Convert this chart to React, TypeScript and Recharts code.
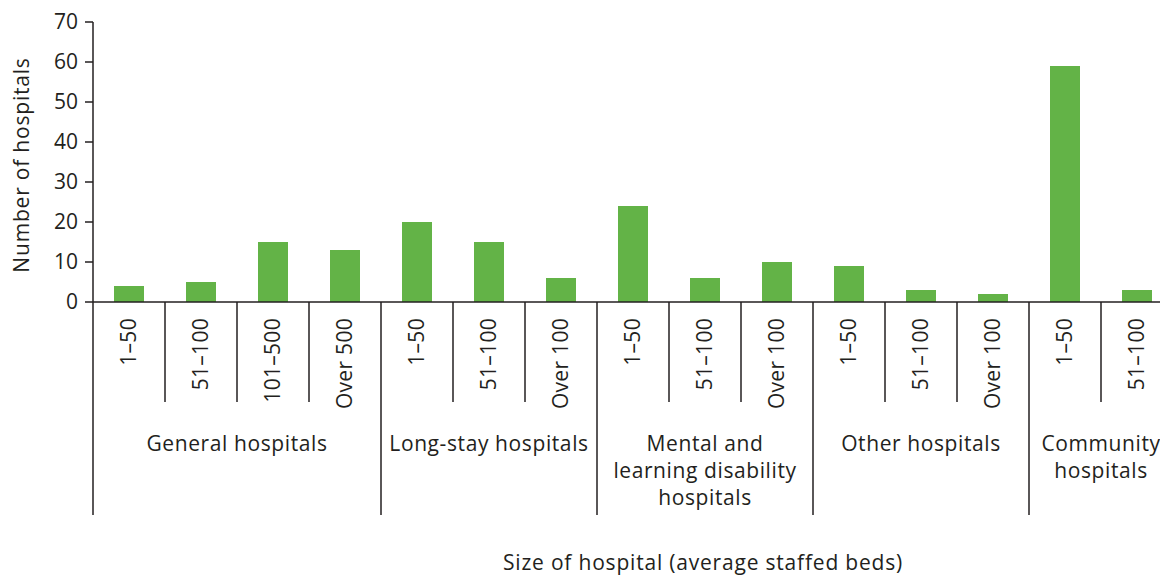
import { BarChart, Bar, XAxis, YAxis, Customized } from 'recharts';

const sizeLabels = [
  '1–50', '51–100', '101–500', 'Over 500',
  '1–50', '51–100', 'Over 100',
  '1–50', '51–100', 'Over 100',
  '1–50', '51–100', 'Over 100',
  '1–50', '51–100',
];
const hospitalCounts = [4, 5, 15, 13, 20, 15, 6, 24, 6, 10, 9, 3, 2, 59, 3];
const groupNames = [
  ['General hospitals'],
  ['Long-stay hospitals'],
  ['Mental and', 'learning disability', 'hospitals'],
  ['Other hospitals'],
  ['Community', 'hospitals'],
];
const groupSizes = [4, 3, 3, 3, 2];
const yTicks = [0, 10, 20, 30, 40, 50, 60, 70];

const data = sizeLabels.map((label, i) => ({ key: i, label, count: hospitalCounts[i] }));

// index of first category of each group
const groupStarts: number[] = [];
groupSizes.reduce((acc, n) => {
  groupStarts.push(acc);
  return acc + n;
}, 0);

const INK = '#231f20';
const FONT = '"Open Sans", "Noto Sans", sans-serif';
const FS = 21;
const BAND = 72;

function CategoryTick(props: any) {
  const { x, y, payload } = props;
  const i = payload.index;
  const g = groupStarts.indexOf(i);
  const left = x - BAND / 2;
  const mid = left + (g >= 0 ? groupSizes[g] * BAND : 0) / 2;
  return (
    <g>
      <text
        x={x}
        y={y + 16}
        transform={`rotate(-90, ${x}, ${y + 16})`}
        textAnchor="end"
        dy="0.35em"
        fontSize={FS}
        letterSpacing={0.3}
        fontFamily={FONT}
        fill={INK}
      >
        {sizeLabels[i]}
      </text>
      <line
        x1={left}
        x2={left}
        y1={y}
        y2={g >= 0 ? y + 213 : y + 100}
        stroke={INK}
        strokeWidth={1.5}
      />
      {g >= 0 && (
        <text
          x={mid}
          y={y + 149}
          textAnchor="middle"
          fontSize={FS}
          letterSpacing={0.6}
          fontFamily={FONT}
          fill={INK}
        >
          {groupNames[g].map((line, k) => (
            <tspan key={k} x={mid} dy={k === 0 ? 0 : 27}>
              {line}
            </tspan>
          ))}
        </text>
      )}
    </g>
  );
}

function Titles() {
  return (
    <g fontFamily={FONT} fontSize={FS} fill={INK} letterSpacing={0.8}>
      <text x={22} y={165} transform="rotate(-90, 22, 165)" textAnchor="middle" dy="0.35em">
        Number of hospitals
      </text>
      <text x={703} y={570} textAnchor="middle">
        Size of hospital (average staffed beds)
      </text>
    </g>
  );
}

export default function App() {
  return (
    <div style={{ position: 'absolute', left: 0, top: 0, width: 1160, height: 576, overflow: 'hidden', background: '#fff' }}>
      <BarChart
        width={93 + BAND * sizeLabels.length}
        height={576}
        data={data}
        margin={{ top: 22, right: 0, bottom: 0, left: 0 }}
      >
        <YAxis
          domain={[0, 70]}
          ticks={yTicks}
          width={93}
          tickSize={8}
          tickMargin={7}
          axisLine={{ stroke: INK, strokeWidth: 1.5 }}
          tickLine={{ stroke: INK, strokeWidth: 1.5 }}
          tick={{ fill: INK, fontSize: FS, fontFamily: FONT }}
        />
        <XAxis
          dataKey="key"
          height={274}
          interval={0}
          tickSize={0}
          tickMargin={0}
          tickLine={false}
          axisLine={{ stroke: INK, strokeWidth: 1.5 }}
          tick={<CategoryTick />}
        />
        <Bar dataKey="count" fill="#63b347" barSize={30} isAnimationActive={false} />
        <Customized component={<Titles />} />
      </BarChart>
    </div>
  );
}
